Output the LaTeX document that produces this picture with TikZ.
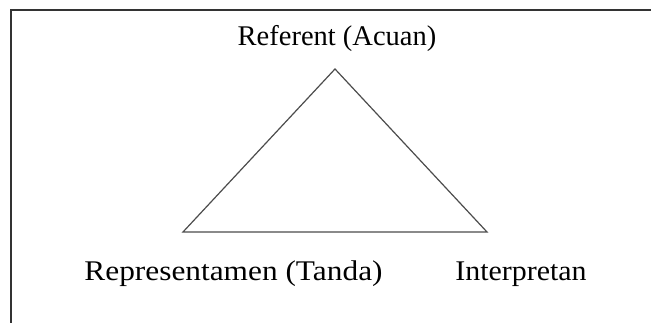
\documentclass[tikz,border=0pt]{standalone}
\usepackage{fontspec}
\setmainfont{Liberation Serif}
\newfontfamily\widefont[FakeStretch=1.1]{Liberation Serif}
\newfontfamily\midfont[FakeStretch=1.05]{Liberation Serif}
\tikzset{
  label/.style={font=\rmfamily\fontsize{28.5}{32}\selectfont,text=black,anchor=base,inner sep=0pt},
  frame/.style={draw=black!80,line width=1.4pt},
  side/.style={draw=black!70,line width=1.2pt,line join=miter}
}
\begin{document}
\begin{tikzpicture}[x=1pt,y=1pt]
\useasboundingbox (0,0) rectangle (651,323);
\clip (0,0) rectangle (651,323);
\fill[white] (0,0) rectangle (651,323);
% outer frame, runs past right and bottom edges
\draw[frame] (11,-20) rectangle (680,313);
% triangle corners
\coordinate (apex) at (335,254);
\coordinate (kiri) at (183,91);
\coordinate (kanan) at (487,91);
\draw[side] (apex) -- (kiri) -- (kanan) -- cycle;
% labels
\node[label] (referent) at (337,277) {Referent (Acuan)};
\node[label,font=\widefont\fontsize{28.5}{32}\selectfont] (tanda) at (233.5,42) {Representamen (Tanda)};
\node[label,font=\midfont\fontsize{28.5}{32}\selectfont] (interpretan) at (521,42) {Interpretan};
\end{tikzpicture}
\end{document}
